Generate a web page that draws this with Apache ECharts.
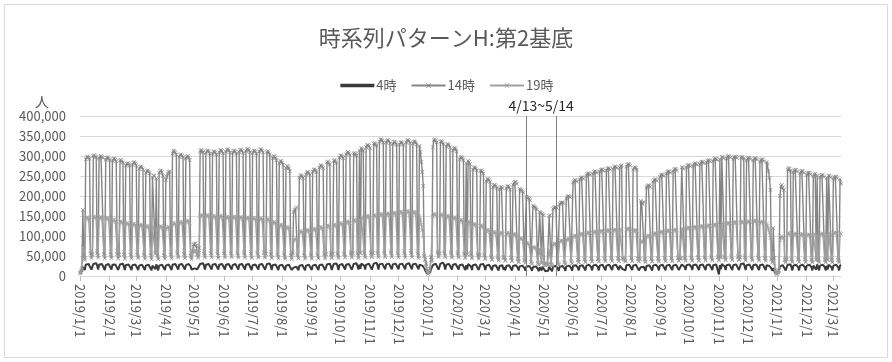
<!DOCTYPE html>
<html>
<head>
<meta charset="utf-8">
<script src="https://cdn.jsdelivr.net/npm/echarts@6/dist/echarts.min.js"></script>
<style>
html, body { margin: 0; padding: 0; background: #fff; }
#chart { width: 892px; height: 362px; }
</style>
</head>
<body>
<div id="chart"></div>
<script>
// ---- chart data ----
const chartTitle = '時系列パターンH:第2基底';
const unitLabel = '人';
const seriesNames = ['4時', '14時', '19時'];
const firstDay = [2019, 1, 1];
const periodStart = '2020/4/13';
const periodEnd = '2020/5/14';
const periodLabel = '4/13~5/14';

// Daily head counts in thousands; one line per Mon–Sun week.
const h4_2019 = [
  5, 8, 12, 22, 24, 15,
  28, 30, 31, 30, 32, 25, 16,
  18, 30, 31, 31, 32, 26, 16,
  28, 31, 31, 30, 32, 25, 15,
  27, 30, 31, 30, 31, 25, 16,
  28, 30, 30, 29, 31, 24, 15,
  17, 29, 30, 30, 31, 24, 15,
  27, 29, 30, 29, 31, 24, 15,
  27, 30, 30, 29, 31, 25, 15,
  26, 29, 29, 28, 30, 24, 15,
  26, 28, 29, 28, 30, 24, 14,
  26, 28, 29, 17, 29, 23, 14,
  26, 28, 29, 28, 30, 24, 15,
  26, 28, 29, 29, 31, 25, 15,
  28, 30, 31, 30, 32, 26, 16,
  28, 30, 31, 30, 32, 25, 16,
  27, 30, 30, 30, 31, 24, 16,
  17, 18, 19, 18, 18, 17, 14,
  15, 30, 31, 31, 32, 26, 16,
  28, 30, 31, 30, 32, 26, 16,
  28, 30, 31, 30, 32, 25, 16,
  28, 31, 31, 30, 32, 26, 16,
  28, 30, 31, 30, 32, 26, 16,
  27, 30, 31, 30, 32, 25, 16,
  28, 30, 30, 30, 31, 25, 16,
  28, 30, 31, 30, 32, 25, 15,
  27, 30, 30, 29, 31, 25, 16,
  28, 30, 31, 30, 32, 25, 16,
  17, 30, 30, 30, 31, 25, 15,
  27, 29, 30, 29, 31, 24, 15,
  26, 29, 29, 28, 30, 24, 15,
  26, 28, 29, 28, 29, 23, 15,
  16, 21, 22, 22, 23, 20, 14,
  25, 28, 28, 28, 29, 23, 14,
  26, 28, 29, 28, 30, 24, 15,
  26, 29, 29, 28, 30, 24, 15,
  27, 29, 30, 29, 31, 24, 15,
  17, 29, 30, 29, 31, 24, 15,
  17, 30, 30, 29, 31, 25, 15,
  27, 30, 31, 30, 32, 25, 16,
  28, 30, 31, 30, 32, 25, 16,
  17, 30, 31, 30, 32, 25, 16,
  28, 18, 31, 30, 32, 26, 16,
  28, 31, 32, 31, 33, 26, 16,
  18, 31, 32, 31, 33, 26, 16,
  29, 31, 32, 31, 33, 26, 17,
  29, 31, 32, 31, 33, 26, 17,
  29, 31, 32, 31, 33, 27, 17,
  29, 32, 32, 31, 34, 27, 17,
  29, 32, 33, 32, 34, 27, 17,
  29, 31, 32, 31, 34, 27, 17,
  28, 29, 28, 26, 25, 20, 14,
  10, 6
];
const h4_2020 = [
  4, 6, 9, 16, 14,
  27, 31, 32, 31, 33, 26, 16,
  18, 31, 32, 31, 33, 26, 16,
  28, 31, 31, 30, 32, 26, 16,
  28, 30, 31, 30, 32, 25, 16,
  27, 30, 30, 29, 31, 25, 15,
  27, 17, 30, 29, 31, 24, 15,
  27, 29, 30, 29, 31, 24, 15,
  16, 29, 29, 28, 30, 24, 15,
  26, 28, 29, 28, 30, 23, 14,
  25, 28, 28, 27, 29, 23, 14,
  25, 27, 28, 27, 16, 22, 14,
  25, 27, 28, 27, 29, 22, 14,
  25, 27, 28, 27, 28, 21, 14,
  24, 26, 26, 26, 27, 20, 13,
  23, 25, 25, 25, 26, 19, 13,
  22, 24, 24, 24, 25, 18, 12,
  22, 23, 14, 23, 24, 18, 12,
  13, 13, 13, 23, 24, 18, 12,
  23, 24, 25, 25, 26, 19, 13,
  23, 25, 25, 25, 26, 19, 13,
  24, 25, 26, 26, 27, 20, 13,
  25, 27, 27, 27, 28, 21, 14,
  25, 27, 28, 27, 29, 22, 14,
  26, 27, 28, 28, 29, 22, 14,
  26, 28, 28, 28, 29, 22, 14,
  26, 28, 29, 28, 30, 23, 14,
  26, 28, 29, 28, 30, 23, 15,
  26, 28, 29, 28, 30, 23, 15,
  26, 28, 29, 17, 18, 21, 14,
  27, 29, 29, 28, 30, 23, 15,
  26, 28, 29, 28, 29, 23, 14,
  15, 22, 22, 22, 23, 19, 13,
  25, 27, 28, 27, 29, 22, 14,
  26, 28, 28, 28, 29, 22, 14,
  26, 28, 29, 28, 30, 23, 14,
  26, 28, 29, 28, 30, 23, 15,
  26, 28, 29, 28, 30, 23, 15,
  16, 16, 29, 28, 30, 23, 15,
  27, 29, 29, 29, 30, 23, 15,
  27, 29, 30, 29, 31, 24, 15,
  27, 29, 30, 29, 31, 24, 15,
  27, 29, 30, 29, 31, 24, 15,
  27, 29, 30, 29, 31, 24, 4,
  27, 17, 30, 29, 31, 24, 15,
  27, 30, 30, 29, 31, 24, 15,
  27, 30, 30, 29, 31, 24, 15,
  16, 30, 30, 29, 31, 24, 15,
  27, 29, 30, 29, 31, 24, 15,
  27, 29, 30, 29, 31, 24, 15,
  27, 29, 30, 29, 31, 24, 15,
  27, 28, 27, 25, 24, 19, 13,
  20, 14, 8, 5
];
const h4_2021 = [
  3, 6, 9,
  24, 27, 28, 27, 28, 22, 14,
  15, 28, 28, 28, 29, 22, 14,
  26, 28, 28, 28, 29, 22, 14,
  26, 28, 28, 28, 29, 22, 14,
  26, 28, 28, 28, 29, 22, 14,
  26, 28, 28, 16, 29, 22, 14,
  26, 28, 28, 28, 29, 22, 14,
  26, 16, 28, 28, 29, 22, 14,
  26, 28, 28, 28, 29, 22, 14,
  26, 28
];

const h14_2019 = [
  8, 14, 20, 165, 52, 44,
  292, 297, 299, 296, 293, 56, 45,
  54, 300, 302, 299, 297, 57, 46,
  294, 299, 300, 298, 295, 55, 44,
  291, 296, 297, 294, 290, 54, 45,
  288, 293, 294, 291, 287, 55, 44,
  52, 289, 290, 287, 284, 54, 43,
  276, 281, 282, 279, 276, 53, 44,
  278, 283, 285, 281, 277, 54, 45,
  268, 273, 274, 271, 267, 53, 43,
  258, 263, 264, 261, 257, 52, 42,
  246, 251, 250, 58, 244, 51, 42,
  258, 263, 264, 260, 250, 52, 43,
  240, 248, 256, 260, 262, 54, 44,
  306, 314, 312, 309, 304, 56, 46,
  298, 303, 304, 301, 297, 55, 45,
  294, 299, 300, 297, 290, 50, 42,
  62, 78, 80, 82, 75, 55, 48,
  70, 312, 315, 314, 310, 56, 46,
  308, 313, 314, 311, 306, 57, 46,
  306, 311, 312, 309, 304, 56, 45,
  309, 314, 315, 312, 307, 57, 46,
  311, 316, 317, 314, 309, 57, 47,
  308, 313, 314, 311, 306, 56, 46,
  310, 315, 316, 313, 308, 57, 46,
  312, 317, 318, 315, 310, 56, 45,
  308, 313, 314, 311, 306, 56, 46,
  311, 316, 317, 314, 309, 57, 46,
  56, 311, 312, 309, 304, 55, 45,
  295, 300, 299, 296, 290, 54, 44,
  282, 287, 288, 284, 278, 53, 43,
  270, 275, 274, 270, 262, 52, 42,
  58, 160, 165, 168, 172, 52, 44,
  246, 251, 252, 249, 245, 52, 43,
  254, 259, 260, 257, 253, 53, 43,
  261, 266, 267, 264, 260, 53, 44,
  271, 276, 277, 274, 270, 54, 44,
  55, 284, 286, 283, 279, 54, 45,
  56, 288, 290, 287, 283, 55, 45,
  296, 301, 302, 299, 295, 55, 46,
  304, 309, 310, 307, 303, 56, 46,
  57, 306, 308, 305, 301, 56, 45,
  314, 58, 320, 317, 313, 57, 46,
  322, 327, 328, 325, 320, 57, 47,
  58, 331, 333, 330, 326, 58, 47,
  336, 341, 342, 339, 334, 58, 47,
  334, 339, 340, 337, 332, 58, 47,
  330, 335, 336, 333, 328, 57, 46,
  329, 334, 335, 332, 328, 57, 46,
  334, 339, 340, 337, 333, 58, 47,
  331, 336, 337, 334, 329, 56, 45,
  325, 310, 285, 260, 225, 50, 40,
  30, 12
];
const h14_2020 = [
  6, 12, 18, 48, 40,
  322, 340, 342, 339, 334, 58, 47,
  56, 336, 338, 335, 330, 57, 47,
  324, 329, 330, 327, 322, 57, 46,
  314, 319, 320, 317, 311, 56, 46,
  292, 297, 298, 295, 290, 55, 45,
  282, 54, 288, 285, 280, 54, 44,
  266, 271, 272, 269, 264, 53, 43,
  52, 263, 264, 261, 256, 51, 42,
  237, 242, 243, 240, 235, 48, 40,
  222, 227, 228, 225, 220, 47, 39,
  217, 222, 223, 220, 46, 45, 38,
  219, 224, 225, 222, 216, 45, 37,
  228, 233, 235, 236, 230, 42, 35,
  218, 216, 214, 212, 208, 38, 33,
  198, 196, 195, 193, 189, 34, 30,
  176, 174, 172, 170, 166, 31, 28,
  160, 158, 32, 156, 152, 29, 26,
  30, 29, 28, 150, 152, 28, 25,
  168, 171, 172, 172, 170, 31, 27,
  180, 183, 184, 184, 182, 33, 29,
  194, 198, 200, 199, 197, 36, 31,
  234, 238, 240, 239, 236, 40, 34,
  241, 245, 247, 246, 243, 41, 35,
  251, 255, 257, 256, 253, 42, 36,
  256, 260, 262, 261, 258, 42, 36,
  261, 265, 267, 266, 263, 43, 37,
  264, 268, 270, 269, 266, 43, 37,
  268, 272, 274, 273, 270, 44, 37,
  271, 275, 277, 44, 42, 40, 36,
  274, 278, 280, 279, 276, 44, 37,
  266, 270, 272, 271, 266, 43, 36,
  42, 188, 182, 180, 185, 40, 35,
  221, 225, 227, 226, 223, 42, 36,
  236, 240, 242, 241, 238, 43, 36,
  248, 252, 254, 253, 250, 44, 37,
  256, 260, 262, 261, 258, 44, 37,
  262, 266, 268, 267, 264, 45, 38,
  44, 43, 272, 271, 268, 45, 38,
  272, 276, 278, 277, 274, 45, 38,
  276, 280, 282, 281, 278, 46, 38,
  280, 284, 286, 285, 282, 46, 39,
  284, 288, 290, 289, 286, 46, 39,
  288, 292, 294, 293, 290, 47, 39,
  292, 46, 298, 297, 294, 47, 40,
  294, 298, 300, 299, 296, 47, 40,
  293, 297, 299, 298, 295, 47, 40,
  46, 296, 298, 297, 294, 47, 39,
  290, 294, 296, 295, 292, 46, 39,
  289, 293, 295, 294, 291, 46, 39,
  286, 290, 292, 291, 287, 45, 38,
  285, 280, 262, 245, 215, 42, 34,
  120, 45, 15, 8
];
const h14_2021 = [
  5, 10, 14,
  200, 225, 228, 222, 215, 40, 34,
  42, 266, 270, 268, 263, 41, 35,
  260, 264, 266, 265, 261, 41, 35,
  257, 261, 263, 262, 258, 41, 35,
  253, 257, 259, 258, 254, 40, 34,
  250, 254, 256, 40, 251, 40, 34,
  247, 251, 253, 252, 248, 40, 34,
  245, 40, 251, 250, 246, 40, 34,
  243, 247, 249, 248, 244, 40, 34,
  242, 230
];

const h19_2019 = [
  6, 10, 16, 72, 48, 40,
  142, 146, 147, 145, 140, 62, 50,
  56, 148, 149, 147, 143, 63, 51,
  144, 147, 148, 146, 142, 62, 50,
  142, 145, 146, 144, 140, 61, 50,
  137, 140, 141, 139, 135, 61, 49,
  54, 136, 137, 135, 131, 60, 49,
  129, 132, 133, 131, 127, 60, 48,
  127, 130, 131, 129, 125, 60, 49,
  125, 128, 129, 127, 123, 59, 48,
  122, 125, 126, 124, 120, 59, 48,
  119, 122, 121, 55, 118, 58, 47,
  121, 124, 125, 123, 119, 59, 48,
  117, 120, 122, 123, 121, 60, 48,
  129, 132, 133, 131, 128, 61, 49,
  132, 135, 136, 134, 130, 61, 50,
  135, 138, 139, 137, 132, 58, 47,
  55, 62, 64, 65, 60, 52, 45,
  58, 150, 152, 153, 151, 62, 50,
  149, 152, 153, 151, 147, 63, 51,
  147, 150, 151, 149, 145, 62, 50,
  147, 150, 151, 149, 145, 62, 50,
  145, 148, 149, 147, 143, 62, 50,
  145, 148, 149, 147, 143, 61, 50,
  144, 147, 148, 146, 142, 61, 49,
  143, 146, 147, 145, 141, 61, 49,
  142, 145, 146, 144, 140, 61, 49,
  141, 144, 145, 143, 139, 60, 49,
  55, 142, 143, 141, 137, 60, 48,
  132, 135, 136, 134, 130, 59, 48,
  125, 128, 129, 127, 123, 58, 47,
  119, 122, 123, 121, 116, 57, 46,
  52, 88, 90, 92, 95, 55, 46,
  109, 112, 113, 111, 108, 57, 46,
  112, 115, 116, 114, 111, 57, 46,
  115, 118, 119, 117, 114, 58, 47,
  119, 122, 123, 121, 118, 58, 47,
  54, 126, 127, 125, 122, 58, 47,
  55, 128, 129, 127, 124, 59, 48,
  129, 132, 133, 131, 128, 59, 48,
  133, 136, 137, 135, 132, 60, 48,
  56, 140, 141, 139, 136, 60, 49,
  143, 56, 147, 145, 142, 61, 49,
  147, 150, 151, 149, 146, 61, 50,
  57, 152, 153, 151, 148, 62, 50,
  152, 155, 156, 154, 151, 62, 50,
  153, 156, 157, 155, 152, 62, 51,
  155, 158, 159, 157, 154, 63, 51,
  157, 160, 161, 159, 156, 63, 51,
  159, 162, 163, 161, 158, 63, 52,
  157, 160, 161, 159, 155, 62, 50,
  150, 140, 128, 115, 100, 55, 42,
  25, 10
];
const h19_2020 = [
  5, 9, 14, 40, 36,
  148, 155, 156, 154, 150, 62, 50,
  56, 154, 155, 153, 149, 62, 50,
  147, 150, 151, 149, 145, 61, 49,
  143, 146, 147, 145, 141, 60, 49,
  137, 140, 141, 139, 135, 59, 48,
  133, 54, 137, 135, 131, 58, 47,
  127, 130, 131, 129, 125, 57, 46,
  52, 126, 127, 125, 121, 55, 45,
  112, 115, 116, 114, 110, 52, 43,
  107, 110, 111, 109, 105, 50, 42,
  105, 108, 109, 107, 48, 48, 40,
  105, 108, 109, 107, 103, 47, 39,
  102, 105, 106, 104, 100, 44, 37,
  94, 95, 94, 92, 88, 40, 34,
  83, 82, 81, 79, 76, 36, 31,
  73, 72, 71, 70, 68, 33, 29,
  67, 66, 34, 65, 63, 31, 28,
  32, 31, 30, 64, 65, 30, 27,
  78, 80, 81, 81, 80, 34, 30,
  86, 88, 89, 89, 87, 36, 31,
  90, 92, 93, 93, 91, 38, 33,
  98, 100, 101, 101, 99, 41, 35,
  103, 105, 106, 106, 104, 42, 36,
  106, 108, 109, 109, 107, 43, 37,
  108, 110, 111, 111, 109, 44, 37,
  110, 112, 113, 113, 111, 44, 38,
  112, 114, 115, 115, 113, 45, 38,
  113, 115, 116, 116, 114, 45, 38,
  114, 116, 117, 46, 44, 44, 38,
  116, 118, 119, 119, 117, 46, 39,
  112, 114, 115, 115, 112, 45, 38,
  42, 88, 85, 84, 86, 43, 37,
  98, 100, 101, 101, 99, 44, 37,
  104, 106, 107, 107, 105, 45, 38,
  108, 110, 111, 111, 109, 46, 38,
  111, 113, 114, 114, 112, 46, 39,
  113, 115, 116, 116, 114, 47, 39,
  46, 45, 118, 118, 116, 47, 39,
  118, 120, 121, 121, 119, 48, 40,
  120, 122, 123, 123, 121, 48, 40,
  122, 124, 125, 125, 123, 49, 40,
  124, 126, 127, 127, 125, 49, 41,
  126, 128, 129, 129, 127, 49, 41,
  128, 48, 131, 131, 129, 50, 41,
  130, 132, 133, 133, 131, 50, 42,
  132, 134, 135, 135, 133, 50, 42,
  48, 135, 136, 136, 134, 51, 42,
  134, 136, 137, 137, 135, 51, 42,
  136, 138, 139, 139, 137, 51, 43,
  133, 135, 136, 136, 133, 50, 42,
  130, 126, 118, 108, 95, 44, 36,
  60, 32, 12, 6
];
const h19_2021 = [
  4, 8, 12,
  90, 98, 100, 96, 94, 42, 36,
  42, 106, 108, 107, 104, 42, 36,
  103, 105, 106, 106, 103, 42, 36,
  102, 104, 105, 105, 102, 42, 36,
  101, 103, 104, 104, 101, 42, 36,
  102, 104, 105, 42, 102, 42, 36,
  103, 105, 106, 106, 103, 43, 36,
  104, 42, 107, 107, 104, 43, 37,
  106, 108, 109, 109, 106, 44, 37,
  108, 105
];

// ---- assemble series ----
const toPeople = arr => arr.map(v => v * 1000);
const data4 = toPeople([...h4_2019, ...h4_2020, ...h4_2021]);
const data14 = toPeople([...h14_2019, ...h14_2020, ...h14_2021]);
const data19 = toPeople([...h19_2019, ...h19_2020, ...h19_2021]);

const dates = [];
for (let i = 0; i < data4.length; i++) {
  const d = new Date(firstDay[0], firstDay[1] - 1, firstDay[2] + i);
  dates.push(d.getFullYear() + '/' + (d.getMonth() + 1) + '/' + d.getDate());
}
const isMonthStart = (idx) => dates[idx].split('/')[2] === '1';

const textColor = '#595959';
const baseFont = "'Noto Sans CJK JP', 'Liberation Sans', sans-serif";

// small "x" marker used by the 14時 / 19時 lines
const crossMark = 'path://M1,0L5,4L9,0L10,1L6,5L10,9L9,10L5,6L1,10L0,9L4,5L0,1Z';

const chart = echarts.init(document.getElementById('chart'), null, { renderer: 'canvas' });
chart.setOption({
  animation: false,
  backgroundColor: '#ffffff',
  textStyle: { fontFamily: baseFont },
  title: {
    text: chartTitle,
    left: 'center',
    top: 22,
    textStyle: { fontSize: 22, fontWeight: 'normal', color: textColor, fontFamily: baseFont }
  },
  legend: {
    data: [
      { name: seriesNames[0], itemStyle: { opacity: 0 }, lineStyle: { width: 3.5 } },
      seriesNames[1],
      seriesNames[2]
    ],
    top: 74,
    left: 'center',
    itemWidth: 34,
    itemHeight: 6,
    itemGap: 14,
    textStyle: { fontSize: 13, color: textColor, padding: [0, 0, 0, -3] }
  },
  graphic: [{
    type: 'rect',
    shape: { x: 4.5, y: 4.5, width: 883, height: 353 },
    style: { fill: 'none', stroke: '#d9d9d9', lineWidth: 1 },
    silent: true
  }],
  grid: { left: 80, right: 51, top: 116, bottom: 86, containLabel: false, outerBoundsMode: 'none' },
  xAxis: {
    type: 'category',
    data: dates,
    boundaryGap: false,
    axisLine: { lineStyle: { color: '#d9d9d9' } },
    axisTick: { show: true, length: 5, interval: (idx) => isMonthStart(idx), lineStyle: { color: '#bfbfbf' } },
    axisLabel: {
      interval: (idx) => isMonthStart(idx),
      rotate: -90,
      margin: 8,
      fontSize: 13,
      color: textColor,
      fontFamily: baseFont
    },
    splitLine: { show: false }
  },
  yAxis: {
    type: 'value',
    min: 0,
    max: 400000,
    interval: 50000,
    name: unitLabel,
    nameLocation: 'end',
    nameGap: 7,
    nameTextStyle: { fontSize: 14, color: textColor, align: 'right', padding: [0, 31, 0, 0] },
    axisLine: { show: false },
    axisTick: { show: false },
    axisLabel: {
      margin: 14,
      fontSize: 13,
      color: textColor,
      formatter: (v) => v.toLocaleString('en-US')
    },
    splitLine: { lineStyle: { color: '#d9d9d9' } }
  },
  series: [
    {
      name: seriesNames[0],
      type: 'line',
      data: data4,
      symbol: 'none',
      lineStyle: { color: '#3a3a3a', width: 2 },
      itemStyle: { color: '#3a3a3a' },
      markLine: {
        silent: true,
        symbol: 'none',
        label: { show: false },
        lineStyle: { color: '#7f7f7f', width: 1, type: 'solid' },
        data: [{ xAxis: periodStart }, { xAxis: periodEnd }]
      },
      markArea: {
        silent: true,
        itemStyle: { color: 'rgba(0,0,0,0)' },
        label: { show: true, position: 'top', distance: 3, formatter: periodLabel, color: '#262626', fontSize: 14, fontFamily: baseFont },
        data: [[{ xAxis: periodStart }, { xAxis: periodEnd }]]
      }
    },
    {
      name: seriesNames[1],
      type: 'line',
      data: data14,
      symbol: crossMark,
      symbolSize: 4,
      showAllSymbol: true,
      lineStyle: { color: '#858585', width: 1.4 },
      itemStyle: { color: '#858585' }
    },
    {
      name: seriesNames[2],
      type: 'line',
      data: data19,
      symbol: crossMark,
      symbolSize: 4,
      showAllSymbol: true,
      lineStyle: { color: '#a0a0a0', width: 1.4 },
      itemStyle: { color: '#a0a0a0' }
    }
  ]
});
</script>
</body>
</html>
